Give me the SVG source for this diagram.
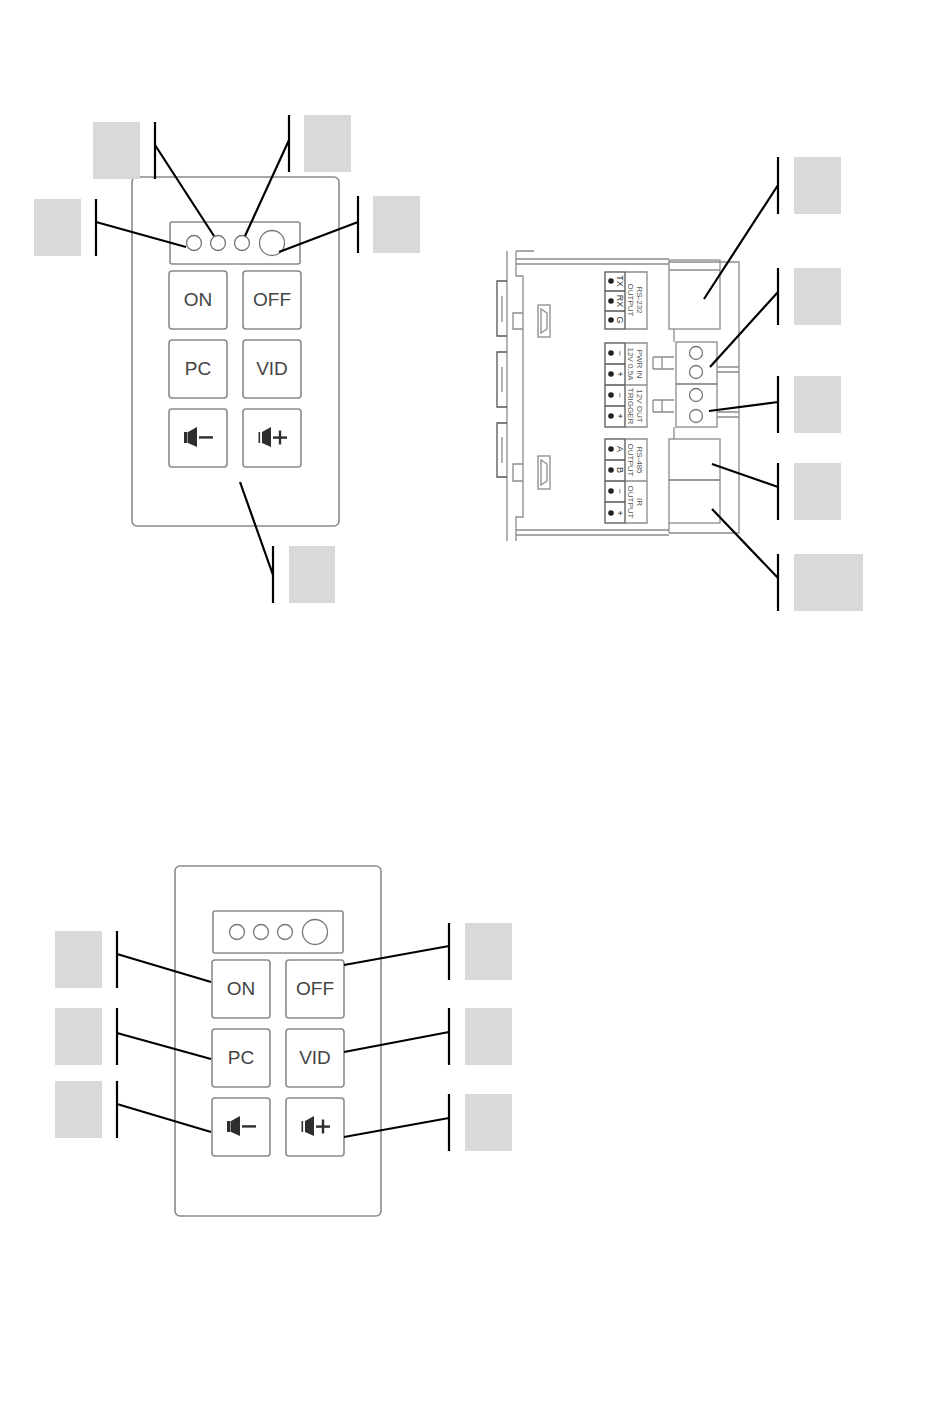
<svg xmlns="http://www.w3.org/2000/svg" width="950" height="1402" viewBox="0 0 950 1402">
<style>
text{font-family:"Liberation Sans",Arial,sans-serif;fill:#3a3a3a}
.key{font-size:19px;text-anchor:middle;fill:#444}
.plate{fill:#fff;stroke:#8a8a8a;stroke-width:1.6}
.btn{fill:#fff;stroke:#8a8a8a;stroke-width:1.6}
.led{fill:#fff;stroke:#777;stroke-width:1.3}
.tag{fill:#d9d9d9}
.ln{stroke:#000;stroke-width:2.2;fill:none}
.d{stroke:#8c8c8c;stroke-width:1.3;fill:none}
.dk{stroke:#555;stroke-width:1.3;fill:none}
.t{font-size:8px;text-anchor:middle;fill:#555}
.p{font-size:9px;text-anchor:middle;fill:#333}
.ic{fill:#2e2e2e}
</style>
<defs>
<g id="minus"><rect x="-15" y="-5" width="3.5" height="11" class="ic"/><path d="M-11-5 L-2-10 V10 L-11 6Z" class="ic"/><rect x="0" y="-0.8" width="14" height="2.4" class="ic"/></g>
<g id="plus"><rect x="-14.5" y="-5" width="1.6" height="11" class="ic"/><path d="M-11-5 L-2-10 V10 L-11 6Z" class="ic"/><rect x="0" y="-0.6" width="14" height="2.4" class="ic"/><rect x="5.8" y="-6.5" width="2.4" height="14" class="ic"/></g>
<g id="dot"><circle r="2.8" fill="#222"/></g>
</defs>

<g id="keypad-top">
<rect class="plate" x="132" y="177" width="207" height="349" rx="5"/>
<rect class="plate" x="170" y="222" width="130" height="42" rx="2"/>
<circle class="led" cx="194" cy="243" r="7.5"/><circle class="led" cx="218" cy="243" r="7.5"/><circle class="led" cx="242" cy="243" r="7.5"/><circle class="led" cx="272" cy="243" r="12.5"/>
<rect class="btn" x="169" y="271" width="58" height="58" rx="3"/><text class="key" x="198" y="306">ON</text>
<rect class="btn" x="243" y="271" width="58" height="58" rx="3"/><text class="key" x="272" y="306">OFF</text>
<rect class="btn" x="169" y="340" width="58" height="58" rx="3"/><text class="key" x="198" y="375">PC</text>
<rect class="btn" x="243" y="340" width="58" height="58" rx="3"/><text class="key" x="272" y="375">VID</text>
<rect class="btn" x="169" y="409" width="58" height="58" rx="3"/><use href="#minus" x="199" y="437"/>
<rect class="btn" x="243" y="409" width="58" height="58" rx="3"/><use href="#plus" x="273" y="437"/>
</g>

<g id="keypad-bottom">
<rect class="plate" x="175" y="866" width="206" height="350" rx="5"/>
<rect class="plate" x="213" y="911" width="130" height="42" rx="2"/>
<circle class="led" cx="237" cy="932" r="7.5"/><circle class="led" cx="261" cy="932" r="7.5"/><circle class="led" cx="285" cy="932" r="7.5"/><circle class="led" cx="315" cy="932" r="12.5"/>
<rect class="btn" x="212" y="960" width="58" height="58" rx="3"/><text class="key" x="241" y="995">ON</text>
<rect class="btn" x="286" y="960" width="58" height="58" rx="3"/><text class="key" x="315" y="995">OFF</text>
<rect class="btn" x="212" y="1029" width="58" height="58" rx="3"/><text class="key" x="241" y="1064">PC</text>
<rect class="btn" x="286" y="1029" width="58" height="58" rx="3"/><text class="key" x="315" y="1064">VID</text>
<rect class="btn" x="212" y="1098" width="58" height="58" rx="3"/><use href="#minus" x="242" y="1126"/>
<rect class="btn" x="286" y="1098" width="58" height="58" rx="3"/><use href="#plus" x="316" y="1126"/>
</g>

<g id="rear-panel">
<path class="d" d="M507 251V541M516 251V276H523V517H516V541M516 259H669M516 264H669M669 262H739V533H669M516 530H669M516 535H669M516 251H534"/>
<path class="dk" d="M507 281H497V336H507M507 352H497V407H507M507 423H497V477H507"/>
<path class="d" d="M502 296V322M502 367V392M502 437V463"/>
<path class="d" d="M523 313H513V329H523M523 464H513V481H523"/>
<rect class="d" x="538" y="305" width="12" height="32"/><rect class="d" x="538" y="456" width="12" height="33"/>
<path class="d" d="M541 309V333L547 329V313ZM541 460V485L547 481V464Z"/>
<path class="d" d="M674 329V342M674 427V439M653 357H674M653 369H674M653 357V369M662 357V369M653 400H674M653 412H674M653 400V412M662 400V412M717 367H739M717 372H739M717 412H739M717 417H739"/>
<rect class="d" x="669" y="260" width="51" height="69"/>
<path class="d" d="M669 270H720"/>
<rect class="d" x="669" y="439" width="51" height="41"/>
<rect class="d" x="669" y="480" width="51" height="43"/>
<path class="d" d="M669 523V533"/>
<rect class="d" x="676" y="342" width="41" height="42"/>
<rect class="d" x="676" y="384" width="41" height="43"/>
<circle class="led" cx="696" cy="353" r="6.5"/><circle class="led" cx="696" cy="372" r="6.5"/><circle class="led" cx="696" cy="395" r="6.5"/><circle class="led" cx="696" cy="416" r="6.5"/>

<g id="terminal-rs232">
<rect class="dk" x="605" y="272" width="20" height="57"/><path class="dk" d="M605 291H625M605 311H625"/>
<path class="d" d="M625 272H647V329H625"/>
<use href="#dot" x="611" y="281"/><use href="#dot" x="611" y="301"/><use href="#dot" x="611" y="320"/>
<text class="p" transform="translate(617 281) rotate(90)">TX</text><text class="p" transform="translate(617 301) rotate(90)">RX</text><text class="p" transform="translate(617 320) rotate(90)">G</text>
<text class="t" transform="translate(637 300) rotate(90)">RS-232</text><text class="t" transform="translate(628 300) rotate(90)">OUTPUT</text>
</g>
<g id="terminal-power">
<rect class="dk" x="605" y="343" width="20" height="84"/><path class="dk" d="M605 364H625M605 385H625M605 406H625"/>
<path class="d" d="M625 343H647V427H625M625 385H647"/>
<use href="#dot" x="611" y="353"/><use href="#dot" x="611" y="374"/><use href="#dot" x="611" y="395"/><use href="#dot" x="611" y="416"/>
<text class="p" transform="translate(617 353) rotate(90)">−</text><text class="p" transform="translate(617 374) rotate(90)">+</text><text class="p" transform="translate(617 395) rotate(90)">−</text><text class="p" transform="translate(617 416) rotate(90)">+</text>
<text class="t" transform="translate(637 364) rotate(90)">PWR IN</text><text class="t" transform="translate(628 364) rotate(90)">12V 0.5A</text>
<text class="t" transform="translate(637 406) rotate(90)">12V OUT</text><text class="t" transform="translate(628 406) rotate(90)">TRIGGER</text>
</g>
<g id="terminal-rs485">
<rect class="dk" x="605" y="439" width="20" height="84"/><path class="dk" d="M605 460H625M605 481H625M605 502H625"/>
<path class="d" d="M625 439H647V523H625M625 481H647"/>
<use href="#dot" x="611" y="449"/><use href="#dot" x="611" y="470"/><use href="#dot" x="611" y="491"/><use href="#dot" x="611" y="513"/>
<text class="p" transform="translate(617 449) rotate(90)">A</text><text class="p" transform="translate(617 470) rotate(90)">B</text><text class="p" transform="translate(617 491) rotate(90)">−</text><text class="p" transform="translate(617 513) rotate(90)">+</text>
<text class="t" transform="translate(637 460) rotate(90)">RS-485</text><text class="t" transform="translate(628 460) rotate(90)">OUTPUT</text>
<text class="t" transform="translate(637 502) rotate(90)">IR</text><text class="t" transform="translate(628 502) rotate(90)">OUTPUT</text>
</g>
</g>

<g id="label-boxes">
<rect class="tag" x="93" y="122" width="47" height="57"/>
<rect class="tag" x="304" y="115" width="47" height="57"/>
<rect class="tag" x="34" y="199" width="47" height="57"/>
<rect class="tag" x="373" y="196" width="47" height="57"/>
<rect class="tag" x="289" y="546" width="46" height="57"/>
<rect class="tag" x="794" y="157" width="47" height="57"/>
<rect class="tag" x="794" y="268" width="47" height="57"/>
<rect class="tag" x="794" y="376" width="47" height="57"/>
<rect class="tag" x="794" y="463" width="47" height="57"/>
<rect class="tag" x="794" y="554" width="69" height="57"/>
<rect class="tag" x="55" y="931" width="47" height="57"/>
<rect class="tag" x="55" y="1008" width="47" height="57"/>
<rect class="tag" x="55" y="1081" width="47" height="57"/>
<rect class="tag" x="465" y="923" width="47" height="57"/>
<rect class="tag" x="465" y="1008" width="47" height="57"/>
<rect class="tag" x="465" y="1094" width="47" height="57"/>
</g>

<g id="connectors">
<path class="ln" d="M155 122V179M155 145L214 236"/>
<path class="ln" d="M289 115V172M289 140L245 236"/>
<path class="ln" d="M96 199V256M96 222L186 247"/>
<path class="ln" d="M358 196V253M358 222L279 252"/>
<path class="ln" d="M273 546V603M273 575L240 482"/>
<path class="ln" d="M778 157V214M778 185L704 299"/>
<path class="ln" d="M778 268V325M778 292L710 367"/>
<path class="ln" d="M778 376V433M778 402L709 411"/>
<path class="ln" d="M778 463V520M778 487L712 464"/>
<path class="ln" d="M778 554V611M778 578L712 509"/>
<path class="ln" d="M117 931V988M117 954L211 982"/>
<path class="ln" d="M117 1008V1065M117 1033L211 1059"/>
<path class="ln" d="M117 1081V1138M117 1104L211 1132"/>
<path class="ln" d="M449 923V980M449 946L344 965"/>
<path class="ln" d="M449 1008V1065M449 1032L344 1052"/>
<path class="ln" d="M449 1094V1151M449 1118L344 1137"/>
</g>
</svg>
